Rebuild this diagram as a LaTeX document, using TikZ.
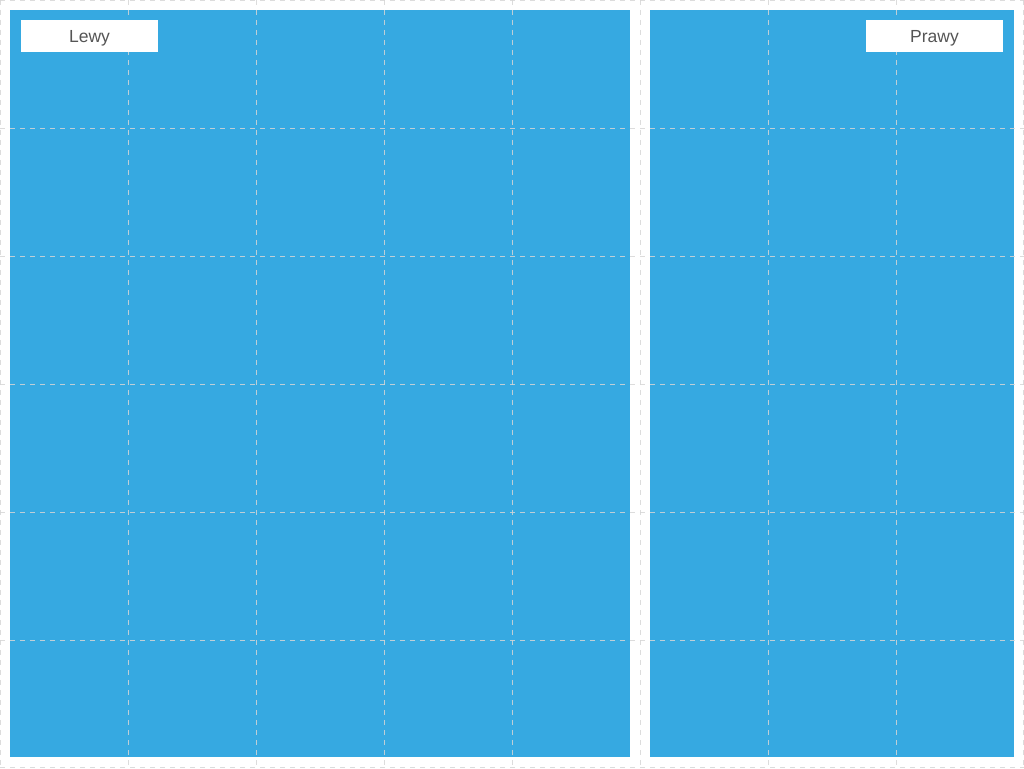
\documentclass[tikz,border=0pt]{standalone}
\usepackage{fontspec}
\setmainfont{Liberation Sans}
\definecolor{panelblue}{HTML}{36A9E1}
\definecolor{gridgray}{HTML}{D6D6D6}
\definecolor{labeltext}{HTML}{555555}
\begin{document}
\begin{tikzpicture}[x=1pt,y=-1pt,
  panel/.style={fill=panelblue,draw=none,inner sep=0pt,outer sep=0pt,anchor=north west},
  gridline/.style={draw=gridgray,draw opacity=0.85,line width=1pt,dash pattern=on 5pt off 5pt},
  labelbox/.style={fill=white,draw=none,inner sep=0pt,minimum width=137pt,minimum height=32pt,
    text height=13pt,text depth=0pt,
    text=labeltext,font=\fontsize{17.5}{20}\selectfont}]
\useasboundingbox (0,0) rectangle (1024,768);
\fill[white] (0,0) rectangle (1024,768);
\node[panel,minimum width=620pt,minimum height=747pt] (left) at (10,10) {};
\node[panel,minimum width=364pt,minimum height=747pt] (right) at (650,10) {};
% grid
\foreach \x in {0.5,128,256,384,512,640,768,896,1023.5}
  \draw[gridline] (\x,0) -- (\x,768);
\foreach \y in {0.5,128,256,384,512,640,767.5}
  \draw[gridline] (0,\y) -- (1024,\y);
\node[labelbox] (lewy) at (89.5,36) {Lewy};
\node[labelbox] (prawy) at (934.5,36) {Prawy};
\end{tikzpicture}
\end{document}
